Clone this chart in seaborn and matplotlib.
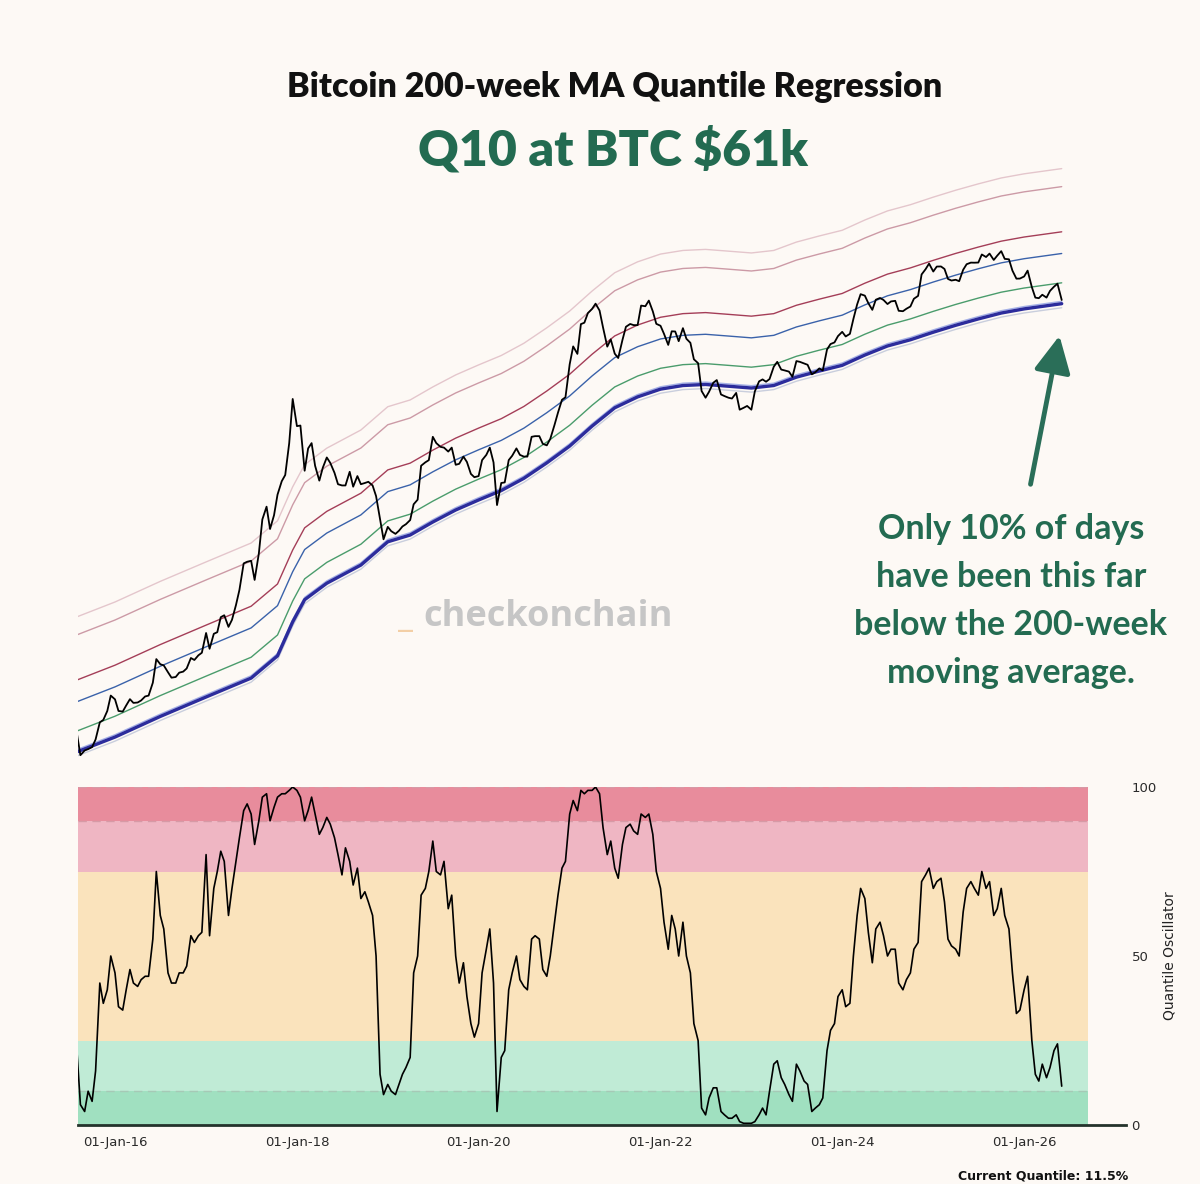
import matplotlib.pyplot as plt
import numpy as np
import pandas as pd
import seaborn as sns
from datetime import datetime, timedelta

# BTC close, 1st and 15th of each month from Aug-2015
btc_price = [
    282, 215, 228, 232, 238, 262, 325, 335, 375, 455,  # 2015
    434, 375, 372, 402, 435, 415, 417, 428, 450, 455, 535, 720,
    675, 665, 610, 570, 575, 607, 615, 640, 730, 712, 755, 780,  # 2016
    1000, 820, 990, 1010, 1220, 1250, 1080, 1180, 1420, 1720, 2400, 2450,
    2480, 1950, 2720, 4170, 4900, 3700, 4400, 5700, 6750, 7300, 10900, 19000,  # 2017
    13500, 13600, 7700, 10200, 10900, 8200, 6800, 8000, 9100, 8500, 7500, 6500,
    6400, 6400, 7600, 6300, 7200, 6500, 6600, 6700, 6400, 5600, 4200, 3250,  # 2018
    3800, 3600, 3480, 3620, 3820, 3930, 4140, 5050, 5350, 8200, 8560, 8800,
    11800, 10900, 10400, 10300, 9800, 10300, 8300, 8400, 9200, 8600, 7400, 7100,  # 2019
    7200, 8800, 9400, 10300, 8550, 5000, 6600, 6650, 8800, 9300, 10200, 9400,
    9200, 9200, 11800, 11900, 11900, 10800, 10600, 11500, 13700, 16000, 18800, 19400,  # 2020
    29400, 36800, 33500, 48700, 49600, 55900, 59000, 63000, 57800, 46700, 36700, 40200,
    33600, 31800, 39900, 47100, 48800, 48100, 48100, 61500, 61000, 65500, 57200, 48900,  # 2021
    47700, 43100, 37500, 44500, 44400, 39300, 46300, 40500, 38500, 31300, 29800, 21000,
    19300, 20800, 23300, 24100, 20100, 19700, 19300, 19100, 20500, 16600, 17000, 17400,  # 2022
    16600, 20900, 23700, 24300, 23600, 24400, 28500, 30300, 27500, 27200, 26800, 25100,
    30600, 30300, 29700, 29200, 25900, 26600, 27900, 27200, 35400, 37900, 38700, 41900,  # 2023
    44200, 41700, 43100, 52000, 62400, 71000, 69700, 63400, 58300, 66200, 67700, 66000,
    62700, 64800, 65300, 57600, 57300, 59100, 60800, 67000, 69500, 91000, 97200, 104300,  # 2024
    94400, 100500, 100600, 97500, 86000, 84300, 85100, 83600, 96500, 103500, 105600, 105500,
    105700, 117000, 113300, 118300, 109200, 115300, 122000, 110700, 110100, 95500, 86300, 86400,  # 2025
    88700, 95500, 77600, 68000, 67500, 70500, 68000, 74000, 78000, 81000, 66000,  # 2026
]

# quantile oscillator (0-100) on the same dates
quantile_osc = [
    22, 6, 4, 10, 7, 16, 42, 36, 40, 50,
    45, 35, 34, 40, 46, 42, 41, 43, 44, 44, 55, 75, 62, 58, 45, 42, 42, 45, 45, 47, 56, 54, 56, 57,
    80, 56, 70, 75, 81, 78, 62, 70, 78, 85, 93, 95, 92, 83, 90, 97, 98, 90, 94, 97, 98, 98, 99, 100,
    99, 97, 90, 93, 97, 92, 86, 88, 91, 89, 85, 80, 74, 82, 78, 71, 76, 67, 69, 66, 62, 50, 15, 9,
    12, 10, 9, 12, 15, 17, 20, 45, 50, 68, 70, 75, 84, 75, 74, 78, 64, 68, 50, 42, 48, 38, 30, 26,
    30, 45, 52, 58, 42, 4, 20, 22, 40, 45, 50, 43, 41, 40, 55, 56, 55, 46, 44, 50, 60, 68, 76, 78,
    92, 96, 93, 99, 98, 99, 99, 100, 98, 88, 80, 84, 76, 73, 83, 88, 89, 87, 86, 92, 91, 92, 86, 75,
    70, 60, 52, 62, 58, 50, 60, 50, 45, 30, 25, 5, 3, 8, 11, 11, 4, 3, 2, 2, 3, 1, 0.5, 0.5,
    0.5, 1, 3, 5, 3, 10, 18, 19, 14, 12, 9, 7, 18, 16, 13, 12, 4, 5, 6, 8, 22, 28, 30, 38,
    40, 35, 36, 50, 62, 70, 67, 57, 48, 58, 60, 56, 50, 52, 52, 42, 40, 43, 45, 52, 54, 72, 74, 76,
    70, 72, 73, 66, 55, 53, 52, 50, 63, 70, 72, 70, 68, 75, 70, 72, 62, 64, 70, 62, 58, 45, 33, 34,
    40, 44, 25, 15, 13, 18, 14, 17, 22, 24, 11.5,
]

# 200-week moving average
ma_dates = ['2015-08-01', '2016-01-01', '2016-07-01', '2017-01-01', '2017-07-01', '2017-10-15',
            '2017-12-15', '2018-02-01', '2018-05-01', '2018-09-15', '2019-01-01', '2019-04-01',
            '2019-07-01', '2019-10-01', '2020-01-01', '2020-04-01', '2020-07-01', '2020-10-01',
            '2021-01-01', '2021-04-01', '2021-07-01', '2021-10-01', '2022-01-01', '2022-04-01',
            '2022-07-01', '2022-10-01', '2023-01-01', '2023-04-01', '2023-07-01', '2023-10-01',
            '2024-01-01', '2024-04-01', '2024-07-01', '2024-10-01', '2025-01-01', '2025-04-01',
            '2025-07-01', '2025-10-01', '2026-01-01', '2026-06-01']
ma_200w = [224, 270, 350, 447, 567, 750, 1150, 1520, 1870, 2350, 3150, 3430,
           4040, 4700, 5330, 6000, 7000, 8500, 10500, 13500, 17000, 19500, 21500, 22500,
           22800, 22300, 21800, 22500, 25000, 27000, 29000, 33000, 37000, 40000, 44000, 48000,
           52000, 56000, 59000, 63000]

# quantile bands as multiples of the 200WMA
band_mult = [0.95, 1.03, 1.0, 1.30, 1.88, 2.47, 4.36, 5.47]
band_colors = ['#c9cedd', '#a4b0e6', '#2c2c9c', '#4a9c6c', '#3a62aa', '#a43e58', '#cc9aa6', '#e4c6cc']
band_lw = [1.0, 1.0, 2.4, 1.0, 1.0, 1.0, 1.0, 1.0]

# oscillator zones
zone_edges = [0, 10, 25, 75, 90, 100]
zone_colors = ['#a0e0c0', '#c0ebd6', '#fae3bc', '#efb6c3', '#e88c9c']

dates = pd.date_range('2015-08-01', periods=len(btc_price), freq='SMS')
ma_dates = pd.to_datetime(ma_dates)
ma = np.array(ma_200w, dtype=float)

bg = '#fdf9f5'
green = '#236b51'

sns.set_theme(style='white')
plt.rcParams['font.family'] = ['DejaVu Sans']

fig = plt.figure(figsize=(12, 11.84), dpi=100, facecolor=bg)

# pixel layout: Jan-2016 at x=115, 90.9 px per year
W, H = 1200, 1184
px_day = 90.9 / 365.25
t0 = datetime(2016, 1, 1)
x_left = t0 - timedelta(days=(115 - 78) / px_day)
x_right = t0 + timedelta(days=(1126 - 115) / px_day)
band_end = datetime(2026, 9, 15)

ax1 = fig.add_axes([78 / W, 1 - 770 / H, (1126 - 78) / W, 620 / H])
ax2 = fig.add_axes([78 / W, 1 - 1125 / H, (1126 - 78) / W, 338 / H])
for ax in (ax1, ax2):
    ax.set_facecolor(bg)

# --- price panel ---
for m, c, lw in zip(band_mult, band_colors, band_lw):
    sns.lineplot(x=ma_dates, y=ma * m, ax=ax1, color=c, linewidth=lw)
sns.lineplot(x=dates, y=btc_price, ax=ax1, color='black', linewidth=1.3)
ax1.set_yscale('log')
ax1.set_ylim(10 ** 2.2514, 10 ** 5.639)
ax1.set_xlim(x_left, x_right)
ax1.axis('off')

# --- oscillator panel ---
for lo, hi, c in zip(zone_edges[:-1], zone_edges[1:], zone_colors):
    ax2.fill_between([x_left, band_end], lo, hi, color=c, linewidth=0)
for yv, c in [(100, '#d69aa6'), (90, '#d69aa6'), (10, '#a6c9b6')]:
    ax2.hlines(yv, x_left, band_end, colors=c, linestyles=(0, (6, 4)), linewidth=1)
sns.lineplot(x=dates, y=quantile_osc, ax=ax2, color='black', linewidth=1.2)
ax2.set_xlim(x_left, x_right)
ax2.set_ylim(0, 100)
for s in ['top', 'left', 'right']:
    ax2.spines[s].set_visible(False)
ax2.spines['bottom'].set_color('#24332b')
ax2.spines['bottom'].set_linewidth(2)
ax2.yaxis.tick_right()
ax2.yaxis.set_label_position('right')
ax2.set_yticks([0, 50, 100])
ax2.set_xticks(pd.to_datetime(['2016-01-01', '2018-01-01', '2020-01-01', '2022-01-01', '2024-01-01', '2026-01-01']))
ax2.xaxis.set_major_formatter(plt.matplotlib.dates.DateFormatter('%d-%b-%y'))
ax2.tick_params(axis='both', length=0, labelsize=9.5, colors='#2a2a2a')
ax2.tick_params(axis='x', pad=8)
ax2.tick_params(axis='y', pad=4)
ax2.set_xlabel('')
ax2.set_ylabel('Quantile Oscillator', fontsize=10, color='#222222', labelpad=4)
ax2.grid(False)

# --- text ---
fig.text(615 / W, 1 - 87 / H, 'Bitcoin 200-week MA Quantile Regression', ha='center', va='center',
         fontsize=24.5, fontweight='heavy', family='Lato', color='#111111')
fig.text(613 / W, 1 - 150 / H, 'Q10 at BTC $61k', ha='center', va='center',
         fontsize=36, fontweight='heavy', family='Lato', color=green)
fig.text(1011 / W, 1 - 601 / H, 'Only 10% of days\nhave been this far\nbelow the 200-week\nmoving average.',
         ha='center', va='center', fontsize=24.5, fontweight='bold', family='Lato', color=green,
         linespacing=1.62)
fig.text(398 / W, 1 - 626 / H, '_', ha='left', va='baseline', fontsize=26, fontweight='bold',
         family='Open Sans', color='#f3cfa6')
fig.text(423 / W, 1 - 626 / H, 'checkonchain', ha='left', va='baseline', fontsize=26, fontweight='bold',
         family='Open Sans', color='#c6c6c6')
fig.text(1128 / W, 1 - 1176 / H, 'Current Quantile: 11.5%', ha='right', va='center',
         fontsize=9, fontweight='bold', color='#111111')

ax1.annotate('', xy=(1060, H - 333), xytext=(1030, H - 487), xycoords='figure pixels',
             textcoords='figure pixels',
             arrowprops=dict(arrowstyle='-|>,head_width=0.8,head_length=1.6', color='#2a6e58',
                             lw=3.5, mutation_scale=14))

fig.savefig('out.png', dpi=100, facecolor=bg)
